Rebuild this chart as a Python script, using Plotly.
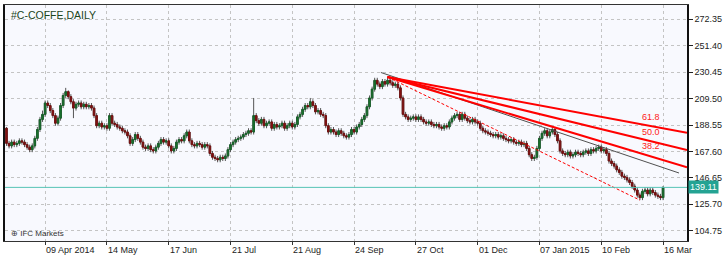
import plotly.graph_objects as go

# ---------------- data ----------------
opens = [186,174,172,175,173,174,176,175,173,171,
         169,172,178,185,193,197,206,204,200,196,
         190,194,204,212,215,211,207,202,205,206,
         203,205,203,204,202,196,188,190,187,188,
         186,196,190,189,187,186,184,183,180,174,
         177,181,178,175,171,170,172,169,168,171,
         174,177,175,176,172,168,170,175,177,176,
         180,183,176,173,172,174,173,171,173,172,
         166,163,162,161,163,162,164,169,173,175,
         177,178,179,181,182,184,183,196,192,190,
         193,188,190,191,186,189,187,188,190,186,
         188,190,187,189,195,197,201,204,203,207,
         204,199,200,197,196,188,183,185,183,181,
         184,182,180,179,181,185,183,187,189,193,
         196,203,210,217,224,221,219,223,221,224,
         222,220,221,218,210,197,195,193,194,195,
         193,195,193,191,190,191,189,188,189,187,
         186,188,187,191,194,196,197,193,197,194,
         192,191,193,191,190,186,184,183,182,181,
         180,181,179,180,178,177,176,177,175,174,
         175,173,174,170,165,162,163,170,178,182,
         184,180,183,185,181,176,168,166,165,167,
         164,165,167,166,165,167,168,166,169,168,
         170,171,168,169,166,160,158,156,153,151,
         148,147,145,143,140,137,133,131,136,137,
         134,137,135,133,132,131]
highs = [187,176,177,177,176,178,178,177,175,173,
         174,180,187,195,200,208,208,206,202,198,
         196,206,214,218,216,213,209,207,208,208,
         207,207,206,206,204,198,192,192,190,190,
         198,198,192,191,189,188,186,185,182,179,
         183,183,180,177,173,174,174,171,173,176,
         179,179,178,178,174,172,177,179,179,182,
         185,185,178,175,176,176,175,175,175,174,
         168,165,164,165,165,166,171,175,177,179,
         180,181,183,184,186,186,210,198,194,195,
         195,192,193,193,191,191,190,192,192,190,
         192,192,191,197,199,203,206,206,210,209,
         206,202,202,199,198,190,187,187,185,186,
         186,184,182,183,187,187,189,191,195,198,
         205,212,219,226,226,223,225,225,227,226,
         224,223,223,220,212,199,197,196,197,197,
         197,197,195,193,193,193,191,191,191,189,
         190,190,193,196,198,199,199,199,199,196,
         194,195,195,193,192,188,186,185,184,183,
         183,183,182,182,180,179,179,179,177,177,
         177,176,176,172,167,165,172,180,184,186,
         186,185,187,187,183,178,170,168,169,169,
         167,169,169,168,169,170,170,171,171,172,
         173,173,171,171,168,162,160,158,155,153,
         150,149,147,145,142,139,135,138,139,139,
         139,139,137,135,134,140]
lows = [172,170,170,171,171,172,173,171,169,167,
        167,170,176,183,191,195,202,198,194,188,
        188,192,202,210,209,205,194,200,203,201,
        201,201,201,200,194,186,186,185,185,184,
        184,188,187,185,184,182,181,178,172,172,
        175,176,173,169,168,168,167,166,166,169,
        172,173,173,170,166,166,168,173,174,174,
        178,174,171,170,170,171,169,169,170,164,
        161,160,159,159,160,160,162,167,171,173,
        175,176,177,179,180,181,181,190,188,188,
        186,186,188,184,184,185,185,186,184,184,
        186,185,185,187,193,195,199,201,201,202,
        197,197,195,194,186,181,181,181,179,179,
        180,178,177,177,179,181,181,185,187,191,
        194,201,208,215,219,217,217,219,219,220,
        218,218,216,208,195,193,191,191,192,191,
        191,191,189,188,188,187,186,186,185,184,
        184,185,185,189,192,194,191,191,192,190,
        189,189,189,188,184,182,181,180,179,178,
        178,177,177,176,175,174,174,173,172,172,
        171,171,168,163,160,160,161,168,176,180,
        178,178,181,179,174,166,164,163,163,162,
        162,163,164,163,163,165,164,164,166,166,
        168,166,166,164,158,156,154,151,149,146,
        145,143,141,138,135,131,129,129,134,132,
        132,133,131,130,129,129]
closes = [174,172,175,173,174,176,175,173,171,169,
          172,178,185,193,197,206,204,200,196,190,
          194,204,212,215,211,207,202,205,206,203,
          205,203,204,202,196,188,190,187,188,186,
          196,190,189,187,186,184,183,180,174,177,
          181,178,175,171,170,172,169,168,171,174,
          177,175,176,172,168,170,175,177,176,180,
          183,176,173,172,174,173,171,173,172,166,
          163,162,161,163,162,164,169,173,175,177,
          178,179,181,182,184,183,196,192,190,193,
          188,190,191,186,189,187,188,190,186,188,
          190,187,189,195,197,201,204,203,207,204,
          199,200,197,196,188,183,185,183,181,184,
          182,180,179,181,185,183,187,189,193,196,
          203,210,217,224,221,219,223,221,224,222,
          220,221,218,210,197,195,193,194,195,193,
          195,193,191,190,191,189,188,189,187,186,
          188,187,191,194,196,197,193,197,194,192,
          191,193,191,190,186,184,183,182,181,180,
          181,179,180,178,177,176,177,175,174,175,
          173,174,170,165,162,163,170,178,182,184,
          180,183,185,181,176,168,166,165,167,164,
          165,167,166,165,167,168,166,169,168,170,
          171,168,169,166,160,158,156,153,151,148,
          147,145,143,140,137,133,131,136,137,134,
          137,135,133,132,131,139.11]

x_tick_index = [15, 39, 63, 87, 111, 135, 159, 183, 207, 231, 255]
x_tick_labels = ["09 Apr 2014", "14 May", "17 Jun", "21 Jul", "21 Aug", "24 Sep",
                 "27 Oct", "01 Dec", "07 Jan 2015", "10 Feb", "16 Mar"]
y_ticks = [104.75, 125.70, 146.65, 167.60, 188.55, 209.50, 230.45, 251.40, 272.35]

last_price = 139.11
title_text = "#C-COFFE,DAILY"
brand_text = "IFC Markets"

# Fibonacci fan anchors (bar index, price)
fan_start = (148, 226.6)
fan_end = (246, 129.0)
fan_levels = [38.2, 50.0, 61.8]
# trend line anchors (bar index, price)
trend_start = (145.4, 230.2)
trend_end = (261.2, 150.5)

X_RANGE = [-0.58, 264.3]
Y_RANGE = [96.6, 283.7]

NARROW = "Liberation Sans Narrow, Liberation Sans, Arial"

# ---------------- figure ----------------
idx = list(range(len(closes)))
body_hi = [max(o, c) for o, c in zip(opens, closes)]
body_lo = [min(o, c) for o, c in zip(opens, closes)]

fig = go.Figure()
# wicks (gray)
fig.add_trace(go.Candlestick(
    x=idx, open=opens, high=highs, low=lows, close=closes,
    increasing=dict(line=dict(color="#555555", width=1), fillcolor="#555555"),
    decreasing=dict(line=dict(color="#555555", width=1), fillcolor="#555555"),
    whiskerwidth=0, hoverinfo="skip", showlegend=False))
# bodies (colored)
fig.add_trace(go.Candlestick(
    x=idx, open=opens, high=body_hi, low=body_lo, close=closes,
    increasing=dict(line=dict(color="#17622a", width=1), fillcolor="#1d7a30"),
    decreasing=dict(line=dict(color="#741212", width=1), fillcolor="#8b1010"),
    whiskerwidth=0, hoverinfo="skip", showlegend=False))

# current price line
fig.add_shape(type="line", xref="paper", x0=0, x1=1, yref="y", y0=last_price, y1=last_price,
              line=dict(color="#56c3b5", width=1))

# trend line (dark gray)
fig.add_trace(go.Scatter(x=[trend_start[0], trend_end[0]], y=[trend_start[1], trend_end[1]],
                         mode="lines", line=dict(color="#505050", width=1),
                         hoverinfo="skip", showlegend=False))

# fibonacci fan
ax, ap = fan_start
bx, bp = fan_end
fig.add_trace(go.Scatter(x=[ax, bx], y=[ap, bp], mode="lines",
                         line=dict(color="#ff0000", width=1, dash="3px,2px"),
                         hoverinfo="skip", showlegend=False))
annotations = []
for lv in fan_levels:
    p_b = bp + (ap - bp) * lv / 100.0
    slope = (p_b - ap) / (bx - ax)
    xe = X_RANGE[1]
    fig.add_trace(go.Scatter(x=[ax, xe], y=[ap, ap + slope * (xe - ax)], mode="lines",
                             line=dict(color="#ff0000", width=2),
                             hoverinfo="skip", showlegend=False))
    annotations.append(dict(x=bx, y=p_b, xref="x", yref="y", text=f"{lv:.1f}",
                            showarrow=False, xanchor="left", yanchor="bottom", yshift=0,
                            font=dict(family=NARROW, size=9, color="#ff2020")))

# x tick labels, left aligned at the tick like the original
for xi, lab in zip(x_tick_index, x_tick_labels):
    annotations.append(dict(x=xi, y=0, xref="x", yref="paper", text=lab, showarrow=False,
                            xanchor="left", yanchor="top", yshift=-2, xshift=-1,
                            font=dict(family=NARROW, size=9, color="#222222")))

annotations.append(dict(x=0, y=1, xref="paper", yref="paper", text=title_text, showarrow=False,
                        xanchor="left", yanchor="top", xshift=4, yshift=-2,
                        font=dict(family="Liberation Sans, Arial", size=10.5, color="#1b451b")))
annotations.append(dict(x=0, y=0, xref="paper", yref="paper", text="⊕ " + brand_text,
                        showarrow=False, xanchor="left", yanchor="bottom", xshift=4, yshift=1,
                        font=dict(family=NARROW, size=8, color="#333333")))
annotations.append(dict(x=1, y=last_price, xref="paper", yref="y", text=f"{last_price:.2f}",
                        showarrow=False, xanchor="left", yanchor="middle", xshift=1,
                        bgcolor="#24a393", borderpad=1,
                        font=dict(family=NARROW, size=9, color="#ffffff")))

fig.update_layout(
    width=725, height=256,
    margin=dict(l=3, r=36, t=5, b=15),
    paper_bgcolor="#ffffff", plot_bgcolor="#f8f9fe",
    showlegend=False, hovermode=False, boxgap=0.15,
    annotations=annotations,
    xaxis=dict(range=X_RANGE, tickvals=x_tick_index, showticklabels=False,
               ticks="outside", ticklen=3, tickcolor="#333333",
               showgrid=True, gridcolor="#c4c4c4", griddash="dot", gridwidth=1,
               zeroline=False, showline=True, linecolor="#333333", linewidth=1, mirror=True,
               rangeslider=dict(visible=False), fixedrange=True),
    yaxis=dict(range=Y_RANGE, side="right", tickvals=y_ticks, tickformat=".2f",
               ticks="outside", ticklen=4, tickcolor="#222222",
               tickfont=dict(family=NARROW, size=9, color="#222222"),
               showgrid=True, gridcolor="#c4c4c4", griddash="dot", gridwidth=1,
               zeroline=False, showline=True, linecolor="#111111", linewidth=1.5, mirror=True,
               fixedrange=True),
)

fig.write_html("out.html")
